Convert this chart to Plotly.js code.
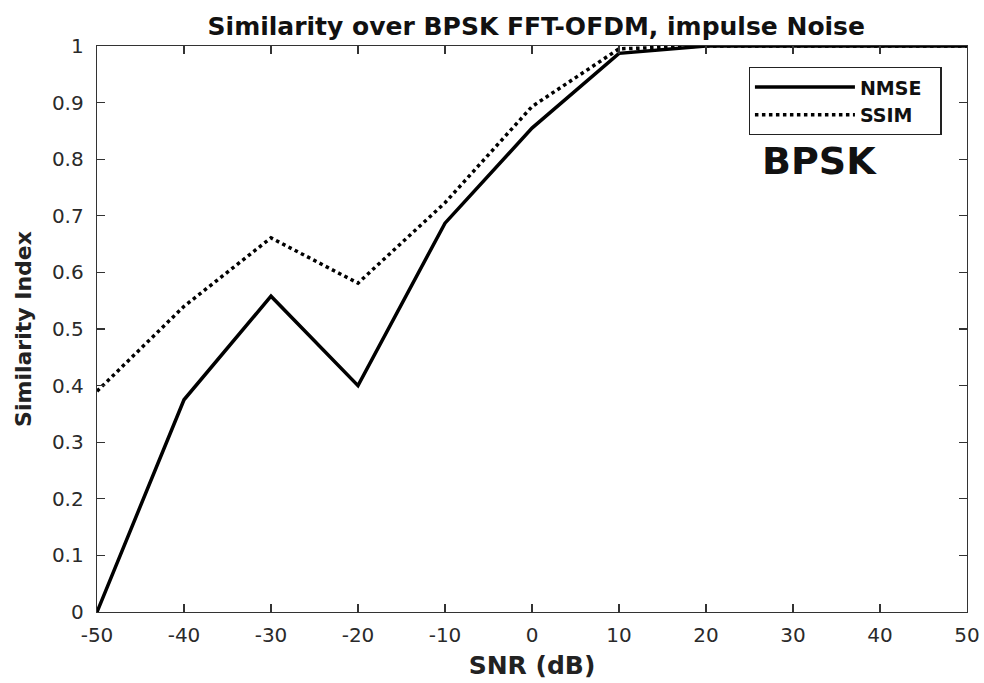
<!DOCTYPE html>
<html>
<head>
<meta charset="utf-8">
<script src="https://cdn.plot.ly/plotly-3.0.1.min.js"></script>
<style>html,body{margin:0;padding:0;background:#fff;}#chart{width:984px;height:683px;}</style>
</head>
<body>
<div id="chart"></div>
<script>
const snr = [-50, -40, -30, -20, -10, 0, 10, 20, 30, 40, 50];
const nmse = [0, 0.375, 0.558, 0.40, 0.687, 0.855, 0.987, 1, 1, 1, 1];
const ssim = [0.39, 0.54, 0.661, 0.581, 0.723, 0.893, 0.995, 1, 1, 1, 1];
const seriesNames = ['NMSE', 'SSIM'];
const xTicks = [-50, -40, -30, -20, -10, 0, 10, 20, 30, 40, 50];
const yTicks = [0, 0.1, 0.2, 0.3, 0.4, 0.5, 0.6, 0.7, 0.8, 0.9, 1];
const yTickText = ['0', '0.1', '0.2', '0.3', '0.4', '0.5', '0.6', '0.7', '0.8', '0.9', '1'];

const FONT = 'DejaVu Sans, Arial, sans-serif';
const pad = '\u00a0\u00a0';

const traces = [
  {x: snr, y: nmse, name: seriesNames[0] + pad, mode: 'lines', line: {color: '#000', width: 3.5}},
  {x: snr, y: ssim, name: seriesNames[1] + pad, mode: 'lines', line: {color: '#000', width: 3.5, dash: 'dot'}}
];

const axisCommon = {
  showgrid: false, zeroline: false, showline: true, linecolor: '#333', linewidth: 1.3,
  mirror: 'ticks', ticks: 'inside', ticklen: 8, tickcolor: '#333', tickwidth: 1.2,
  tickfont: {family: FONT, size: 20, color: '#2a2a2a'}
};

const layout = {
  width: 984, height: 683,
  paper_bgcolor: '#fff', plot_bgcolor: '#fff',
  margin: {l: 97, r: 17, t: 46, b: 71},
  title: {text: '<b>Similarity over BPSK FFT-OFDM, impulse Noise</b>', x: 0.545, xanchor: 'center', y: 0.962, yanchor: 'middle',
          font: {family: FONT, size: 25, color: '#111'}},
  xaxis: Object.assign({}, axisCommon, {
    range: [-50, 50], tickvals: xTicks, ticktext: xTicks.map(String), ticklabelstandoff: 5,
    title: {text: '<b>SNR (dB)</b>', standoff: 10, font: {family: FONT, size: 25, color: '#222'}}
  }),
  yaxis: Object.assign({}, axisCommon, {
    range: [0, 1], tickvals: yTicks, ticktext: yTickText, ticklabelstandoff: 8,
    title: {text: '<b>Similarity Index</b>', standoff: 14, font: {family: FONT, size: 22, color: '#222'}}
  }),
  showlegend: true,
  legend: {
    x: 0.749, y: 0.963, xanchor: 'left', yanchor: 'top',
    bgcolor: '#fff', bordercolor: '#222', borderwidth: 1.3,
    itemwidth: 100, tracegroupgap: 0,
    font: {family: FONT, size: 19, color: '#111', weight: 'bold'}
  },
  annotations: [{
    text: '<b>BPSK</b>', xref: 'paper', yref: 'paper', x: 0.831, y: 0.797,
    showarrow: false, xanchor: 'center', yanchor: 'middle',
    font: {family: FONT, size: 38, color: '#111'}
  }]
};

Plotly.newPlot('chart', traces, layout, {displayModeBar: false, staticPlot: true});
</script>
</body>
</html>
